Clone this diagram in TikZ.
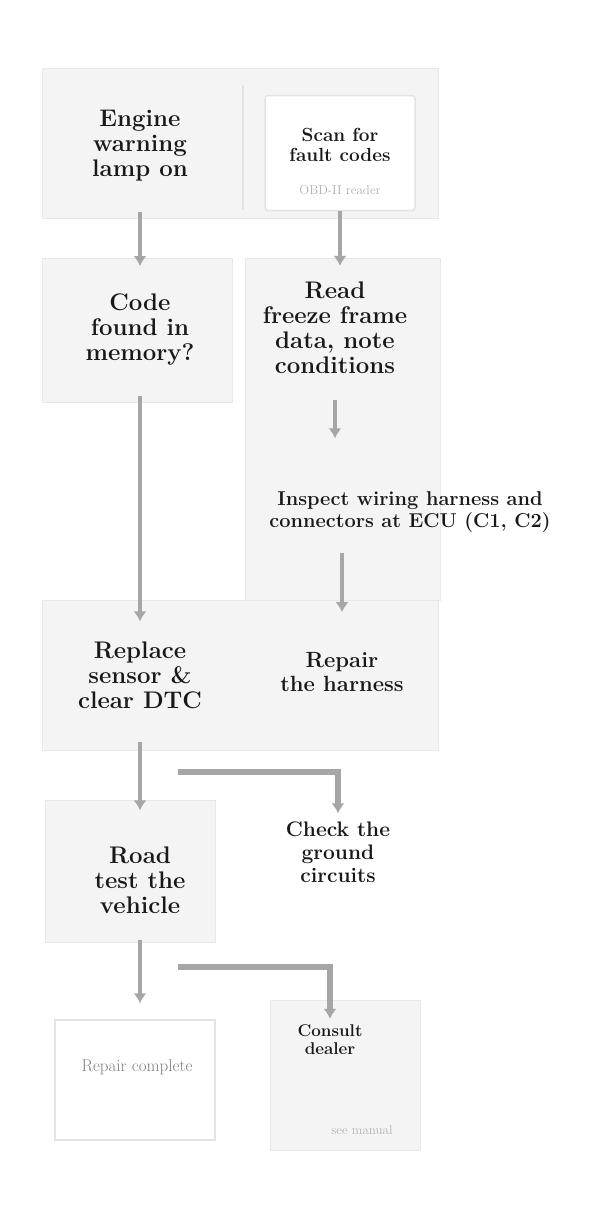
\documentclass[tikz,border=0pt]{standalone}
\usetikzlibrary{arrows.meta,positioning}
\begin{document}
\begin{tikzpicture}[x=1pt,y=-1pt,
  panel/.style={fill=gray!9,draw=gray!18,line width=1pt},
  txt/.style={align=center,text=black!90,font=\fontsize{24}{25}\selectfont\bfseries,inner sep=8pt},
  lbl/.style={align=center,text=black!50,font=\fontsize{17}{19}\selectfont,inner sep=4pt},
  faint/.style={align=center,text=black!30,font=\fontsize{13}{15}\selectfont,inner sep=3pt},
  conn/.style={draw=gray!70,line width=4.5pt},
  arr/.style={conn,-{Latex[length=10pt,width=13pt]}},
  whitebox/.style={fill=white,draw=gray!22,line width=1.5pt,rounded corners=3pt}]
\useasboundingbox (0,0) rectangle (608,1226);
\fill[white] (0,0) rectangle (608,1226);
% background panels
\path[panel] (42,68) rectangle (438,218);
\draw[gray!22,line width=2pt] (243,85) -- (243,210);
\path[panel] (42,258) rectangle (232,402);
\path[panel] (245,258) rectangle (440,600);
\path[panel] (42,600) rectangle (438,750);
\path[panel] (45,800) rectangle (215,942);
\path[panel] (270,1000) rectangle (420,1150);
% nodes
\node[txt] (a1) at (140,146) {Engine\\warning\\lamp on};
\node[whitebox,minimum width=150pt,minimum height=115pt] (b1) at (340,153) {};
\node[txt,font=\fontsize{19}{20}\selectfont\bfseries,inner sep=2pt] (b1t) at (340,145) {Scan for\\fault codes};
\node[faint] (b1s) at (340,190) {OBD-II reader};
\node[txt] (a2) at (140,330) {Code\\found in\\memory?};
\node[txt] (b2) at (335,328) {Read\\freeze frame\\data, note\\conditions};
\node[txt,font=\fontsize{20}{22}\selectfont\bfseries] (c) at (410,512) {Inspect wiring harness and\\connectors at ECU (C1, C2)};
\node[txt] (a3) at (140,675) {Replace\\sensor \&\\clear DTC};
\node[txt,font=\fontsize{22}{24}\selectfont\bfseries] (b3) at (342,672) {Repair\\the harness};
\node[txt] (a4) at (140,880) {Road\\test the\\vehicle};
\node[txt,font=\fontsize{21}{23}\selectfont\bfseries] (b4) at (338,852) {Check the\\ground\\circuits};
\node[whitebox,rounded corners=0pt,minimum width=160pt,minimum height=120pt] (a5) at (135,1080) {};
\node[lbl] (a5t) at (137,1067) {Repair complete};
\node[txt,font=\fontsize{17}{18}\selectfont\bfseries,inner sep=6pt] (b5) at (330,1040) {Consult\\dealer};
\node[faint] (b5s) at (362,1130) {see manual};
% connectors
\draw[arr,shorten <=22pt,shorten >=20pt] (a1.south) -- (a2.north);
\draw[arr,shorten >=8pt] (b1.south) -- (b2.north -| b1.south);
\draw[arr,shorten <=22pt,shorten >=12pt] (a2.south) -- (a3.north);
\draw[arr,shorten <=18pt,shorten >=45pt] (b2.south) -- (c.north -| b2.south);
\draw[arr,shorten <=12pt,shorten >=32pt] (c.south -| b3.north) -- (b3.north);
\draw[arr,shorten <=25pt,shorten >=28pt] (a3.south) -- (a4.north);
\coordinate (s1) at (178,772);
\draw[arr,line width=6pt] (s1) -| (b4.north);
\draw[arr,shorten <=18pt,shorten >=16pt] (a4.south) -- (a5.north -| a4.south);
\coordinate (s2) at (178,967);
\draw[arr,line width=6pt] (s2) -| (b5.north);
\end{tikzpicture}
\end{document}
